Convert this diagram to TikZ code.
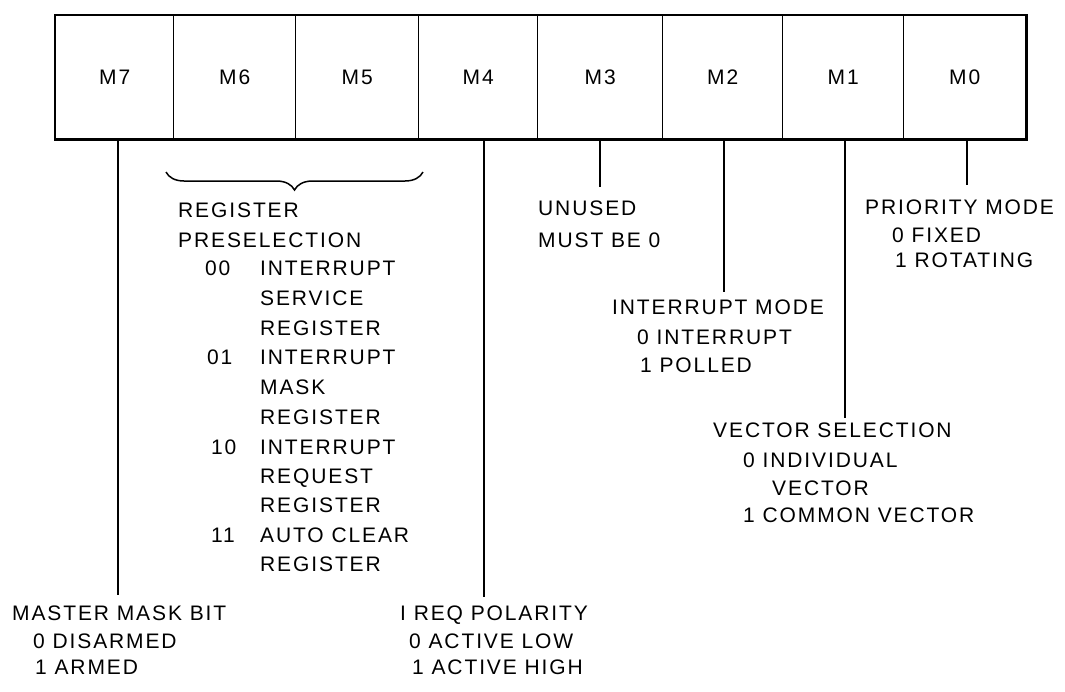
\documentclass[tikz,border=0pt]{standalone}
\usepackage{fontspec}
\setmainfont{Liberation Sans}[LetterSpace=9]
\usetikzlibrary{decorations.pathreplacing}
\begin{document}
\begin{tikzpicture}[x=1pt,y=-1pt,
  every node/.style={font=\fontsize{21}{25}\selectfont},
  cell/.style={draw, line width=1.4pt, minimum height=123pt, inner sep=0pt, anchor=north west},
  lbl/.style={inner sep=0pt, anchor=base west},
  wire/.style={line width=1.6pt},
  bracestyle/.style={line width=1.5pt, decorate, decoration={brace, amplitude=18pt}}]
\useasboundingbox (0,0) rectangle (1065,691);
% register cells
\node[cell, minimum width=118pt] (m7) at (55,15) {M7};
\node[cell, minimum width=122pt] (m6) at (173,15) {M6};
\node[cell, minimum width=123pt] (m5) at (295,15) {M5};
\node[cell, minimum width=119pt] (m4) at (418,15) {M4};
\node[cell, minimum width=125pt] (m3) at (537,15) {M3};
\node[cell, minimum width=120pt] (m2) at (662,15) {M2};
\node[cell, minimum width=121pt] (m1) at (782,15) {M1};
\node[cell, minimum width=122pt] (m0) at (903,15) {M0};
\draw[line width=2.4pt] (m7.north west) rectangle (m0.south east);
% line end points
\coordinate (e7) at (118,595);
\coordinate (e4) at (484,597);
\coordinate (e3) at (600,187);
\coordinate (e2) at (724,292);
\coordinate (e1) at (845,418);
\coordinate (e0) at (967,185);
\draw[wire] (m7.south -| e7) -- (e7);
\draw[wire] (m4.south -| e4) -- (e4);
\draw[wire] (m3.south -| e3) -- (e3);
\draw[wire] (m2.south -| e2) -- (e2);
\draw[wire] (m1.south -| e1) -- (e1);
\draw[wire] (m0.south -| e0) -- (e0);
% brace over M6/M5
\coordinate (br1) at (423,172);
\coordinate (br2) at (166,172);
\draw[bracestyle] (br1) -- (br2);
% register preselection
\node[lbl] (rp1) at (178,217) {REGISTER};
\node[lbl] (rp2) at (178,247) {PRESELECTION};
\node[lbl] (c00) at (205,275) {00};
\node[lbl] (rp3) at (260,275) {INTERRUPT};
\node[lbl] (rp4) at (260,305) {SERVICE};
\node[lbl] (rp5) at (260,335) {REGISTER};
\node[lbl] (c01) at (207,364) {01};
\node[lbl] (rp6) at (260,364) {INTERRUPT};
\node[lbl] (rp7) at (260,394) {MASK};
\node[lbl] (rp8) at (260,424) {REGISTER};
\node[lbl] (c10) at (211,454) {10};
\node[lbl] (rp9) at (260,454) {INTERRUPT};
\node[lbl] (rp10) at (260,483) {REQUEST};
\node[lbl] (rp11) at (260,512) {REGISTER};
\node[lbl] (c11) at (211,542) {11};
\node[lbl] (rp12) at (260,542) {AUTO CLEAR};
\node[lbl] (rp13) at (260,571) {REGISTER};
% master mask bit
\node[lbl] (mm1) at (12,620) {MASTER MASK BIT};
\node[lbl] (mm2) at (33,648) {0 DISARMED};
\node[lbl] (mm3) at (35,674) {1 ARMED};
% ireq polarity
\node[lbl] (ip1) at (400,620) {I REQ POLARITY};
\node[lbl] (ip2) at (409,648) {0 ACTIVE LOW};
\node[lbl] (ip3) at (412,674) {1 ACTIVE HIGH};
% unused
\node[lbl] (un1) at (538,215) {UNUSED};
\node[lbl] (un2) at (538,247) {MUST BE 0};
% interrupt mode
\node[lbl] (im1) at (612,314) {INTERRUPT MODE};
\node[lbl] (im2) at (637,344) {0 INTERRUPT};
\node[lbl] (im3) at (640,372) {1 POLLED};
% priority mode
\node[lbl] (pm1) at (865,214) {PRIORITY MODE};
\node[lbl] (pm2) at (892,242) {0 FIXED};
\node[lbl] (pm3) at (895,267) {1 ROTATING};
% vector selection
\node[lbl] (vs1) at (713,437) {VECTOR SELECTION};
\node[lbl] (vs2) at (743,467) {0 INDIVIDUAL};
\node[lbl] (vs3) at (772,495) {VECTOR};
\node[lbl] (vs4) at (743,522) {1 COMMON VECTOR};
\end{tikzpicture}
\end{document}
